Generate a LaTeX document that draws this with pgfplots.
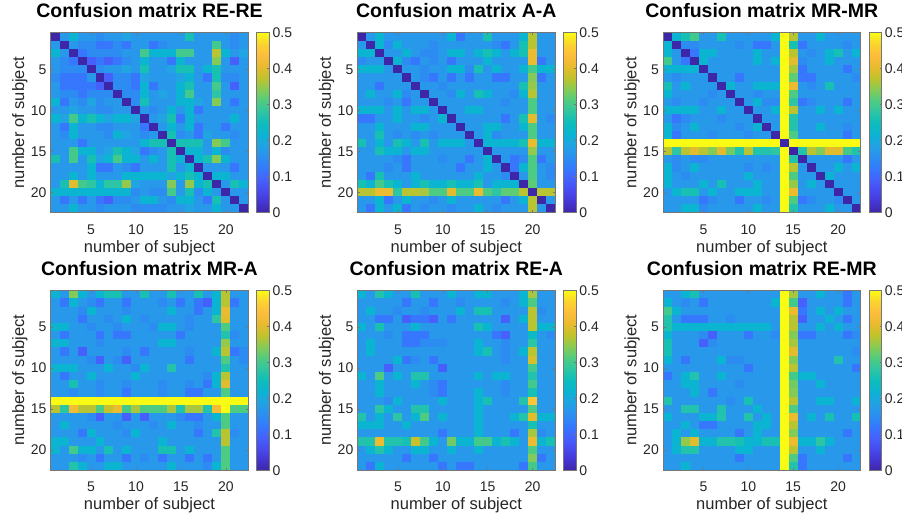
\documentclass[border=0pt]{standalone}
\usepackage{fontspec}
\setmainfont{Liberation Sans}
\usepackage{pgfplots}
\usepackage{pgfplotstable}
\pgfplotsset{compat=1.18}

\definecolor{ticktext}{RGB}{38,38,38}
\definecolor{framegray}{RGB}{118,118,118}

% MATLAB parula (R2014b), 17 samples
\pgfplotsset{colormap={parula}{
  rgb=(0.2422,0.1504,0.6603) rgb=(0.2704,0.2138,0.8346) rgb=(0.2813,0.2985,0.9397)
  rgb=(0.2710,0.3860,0.9898) rgb=(0.2006,0.4803,0.9906) rgb=(0.1716,0.5655,0.9393)
  rgb=(0.1321,0.6363,0.8932) rgb=(0.0433,0.7039,0.8242) rgb=(0.0504,0.7423,0.7359)
  rgb=(0.1853,0.7721,0.6379) rgb=(0.3176,0.7994,0.4975) rgb=(0.5329,0.7970,0.3267)
  rgb=(0.7590,0.7629,0.1717) rgb=(0.9093,0.7321,0.1815) rgb=(0.9946,0.7407,0.2394)
  rgb=(0.9835,0.8280,0.1817) rgb=(0.9769,0.9839,0.0805)}}

\pgfdeclareplotmark{cell}{\pgfpathrectangle{\pgfqpoint{-4.6pt}{-4.2pt}}{\pgfqpoint{9.2pt}{8.4pt}}\pgfusepathqfill}

% one row per subject, one column per subject
\pgfplotstableread[header=false]{
0 .17 .22 .17 .17 .15 .17 .17 .19 .17 .17 .17 .17 .17 .17 .26 .17 .17 .17 .17 .15 .17
.17 0 .17 .15 .15 .12 .12 .15 .12 .17 .17 .12 .15 .17 .17 .17 .17 .17 .30 .17 .15 .17
.22 .17 0 .12 .15 .15 .15 .15 .17 .17 .30 .22 .22 .22 .30 .30 .17 .17 .37 .22 .17 .19
.17 .15 .12 0 .09 .12 .09 .12 .15 .17 .22 .17 .17 .12 .22 .17 .17 .17 .34 .17 .09 .17
.17 .15 .15 .15 0 .15 .17 .17 .19 .17 .26 .17 .17 .19 .26 .26 .17 .22 .26 .17 .17 .17
.15 .12 .12 .12 .17 0 .09 .15 .15 .12 .19 .17 .17 .17 .19 .22 .17 .12 .26 .15 .15 .17
.17 .12 .12 .12 .12 .09 0 .15 .15 .12 .22 .12 .17 .17 .22 .26 .17 .17 .30 .17 .09 .17
.17 .15 .15 .12 .15 .15 .15 0 .15 .15 .22 .17 .19 .17 .22 .30 .17 .17 .28 .17 .17 .17
.22 .12 .17 .15 .19 .15 .17 .17 0 .15 .26 .17 .17 .17 .22 .22 .19 .17 .34 .17 .12 .17
.17 .17 .19 .17 .17 .15 .15 .17 .17 0 .17 .15 .17 .22 .17 .22 .12 .17 .17 .17 .17 .17
.22 .19 .30 .22 .26 .22 .19 .22 .22 .19 0 .17 .19 .26 .12 .22 .17 .17 .17 .17 .22 .17
.17 .12 .22 .17 .17 .15 .15 .17 .17 .17 .12 0 .17 .22 .17 .22 .12 .17 .17 .12 .17 .17
.17 .15 .22 .17 .17 .17 .15 .22 .19 .17 .15 .17 0 .26 .15 .17 .12 .19 .17 .17 .15 .17
.17 .17 .17 .12 .17 .17 .17 .17 .17 .17 .22 .26 .26 0 .26 .26 .26 .17 .34 .30 .17 .17
.17 .17 .30 .22 .22 .17 .19 .26 .22 .19 .12 .15 .17 .26 0 .22 .22 .17 .22 .15 .17 .17
.26 .17 .30 .17 .26 .19 .22 .30 .22 .22 .17 .22 .17 .26 .22 0 .22 .26 .34 .22 .17 .17
.17 .17 .17 .17 .22 .12 .12 .17 .15 .12 .17 .17 .17 .26 .17 .22 0 .17 .17 .17 .12 .17
.17 .17 .22 .17 .22 .17 .17 .17 .22 .22 .22 .22 .22 .19 .22 .26 .22 0 .22 .22 .17 .17
.17 .26 .40 .30 .28 .22 .28 .28 .35 .19 .17 .17 .17 .34 .17 .35 .22 .26 0 .17 .26 .22
.22 .22 .22 .22 .22 .22 .22 .22 .22 .15 .17 .15 .15 .30 .17 .26 .15 .22 .17 0 .17 .17
.17 .12 .17 .12 .17 .12 .09 .15 .15 .17 .22 .22 .17 .15 .22 .22 .17 .12 .26 .17 0 .17
.17 .17 .22 .17 .17 .15 .17 .17 .17 .15 .15 .15 .15 .17 .17 .19 .17 .17 .22 .17 .17 0
}\tblRERE

\pgfplotstableread[header=false]{
0 .17 .22 .17 .17 .17 .17 .17 .17 .17 .22 .12 .17 .17 .26 .17 .17 .17 .22 .37 .17 .17
.17 0 .22 .15 .22 .17 .17 .17 .15 .17 .17 .17 .17 .17 .17 .15 .12 .17 .26 .37 .17 .17
.22 .22 0 .17 .17 .22 .17 .15 .15 .17 .22 .22 .17 .22 .26 .22 .17 .22 .26 .41 .17 .17
.15 .17 .17 0 .22 .15 .12 .17 .15 .17 .12 .17 .17 .17 .22 .17 .17 .17 .17 .41 .12 .17
.22 .22 .22 .17 0 .17 .17 .15 .17 .17 .22 .22 .15 .26 .17 .22 .17 .17 .22 .30 .22 .22
.17 .17 .17 .17 .17 0 .17 .15 .12 .17 .12 .17 .12 .17 .17 .12 .12 .17 .17 .34 .12 .17
.17 .17 .12 .17 .17 .17 0 .17 .17 .15 .17 .17 .17 .17 .17 .17 .17 .17 .26 .35 .17 .17
.17 .22 .17 .17 .22 .15 .17 0 .17 .17 .15 .22 .17 .26 .22 .17 .17 .15 .22 .37 .17 .17
.17 .17 .17 .15 .17 .12 .17 .17 0 .17 .17 .17 .17 .17 .17 .17 .15 .17 .17 .31 .17 .17
.22 .22 .22 .17 .22 .17 .22 .22 .17 0 .17 .17 .22 .22 .17 .17 .17 .17 .17 .31 .17 .17
.12 .12 .17 .17 .22 .17 .17 .15 .17 .22 0 .17 .17 .17 .17 .17 .12 .17 .26 .40 .17 .15
.17 .17 .22 .17 .17 .17 .22 .22 .17 .17 .17 0 .17 .17 .22 .22 .17 .17 .22 .31 .17 .17
.17 .17 .26 .17 .15 .17 .15 .17 .15 .17 .17 .17 0 .17 .22 .15 .17 .17 .17 .31 .17 .17
.26 .17 .22 .17 .26 .22 .17 .26 .17 .22 .22 .22 .17 0 .22 .22 .22 .22 .26 .41 .22 .22
.17 .17 .26 .22 .22 .17 .22 .22 .17 .17 .17 .17 .17 .17 0 .17 .17 .17 .17 .35 .17 .17
.17 .17 .17 .17 .15 .12 .17 .17 .17 .15 .17 .17 .12 .17 .22 0 .17 .12 .15 .31 .12 .17
.17 .17 .17 .15 .17 .12 .17 .17 .17 .17 .17 .12 .17 .17 .22 .17 0 .12 .22 .31 .17 .15
.17 .12 .26 .17 .17 .17 .22 .17 .17 .17 .17 .17 .17 .22 .17 .17 .15 0 .17 .31 .17 .15
.26 .22 .30 .26 .22 .17 .22 .26 .22 .22 .26 .22 .22 .26 .17 .22 .22 .22 0 .32 .17 .17
.37 .37 .41 .41 .28 .37 .37 .36 .31 .31 .40 .31 .31 .41 .31 .28 .32 .32 .37 0 .37 .37
.17 .17 .22 .12 .17 .22 .17 .17 .15 .17 .22 .17 .17 .17 .17 .17 .12 .17 .22 .37 0 .17
.17 .12 .22 .17 .22 .12 .17 .15 .17 .17 .15 .17 .17 .22 .17 .15 .17 .17 .17 .37 .17 0
}\tblAA

\pgfplotstableread[header=false]{
0 .22 .26 .30 .17 .17 .26 .17 .17 .17 .17 .17 .22 .5 .37 .17 .17 .22 .17 .17 .17 .17
.22 0 .15 .15 .17 .17 .17 .17 .15 .17 .12 .12 .17 .5 .26 .12 .17 .17 .17 .17 .15 .17
.22 .17 0 .12 .22 .22 .17 .17 .17 .17 .22 .17 .17 .5 .37 .17 .15 .17 .22 .26 .17 .22
.30 .17 .12 0 .22 .17 .17 .17 .17 .17 .22 .17 .22 .5 .40 .15 .17 .17 .22 .17 .17 .17
.22 .22 .22 .22 0 .17 .17 .17 .17 .17 .17 .17 .17 .5 .36 .12 .17 .17 .17 .17 .12 .17
.17 .15 .17 .17 .17 0 .17 .17 .12 .17 .17 .17 .17 .5 .32 .12 .12 .17 .17 .17 .17 .15
.26 .17 .22 .17 .17 .17 0 .22 .17 .17 .22 .22 .22 .5 .41 .17 .15 .17 .26 .17 .17 .17
.22 .17 .17 .17 .17 .15 .17 0 .17 .17 .15 .17 .17 .5 .31 .17 .17 .17 .17 .17 .17 .17
.17 .15 .17 .17 .15 .17 .17 .17 0 .17 .22 .15 .15 .5 .28 .12 .15 .17 .17 .17 .12 .17
.22 .22 .22 .22 .17 .17 .22 .17 .17 0 .17 .17 .22 .5 .37 .17 .17 .22 .17 .22 .17 .17
.17 .12 .15 .17 .17 .17 .15 .17 .17 .17 0 .17 .17 .5 .27 .17 .17 .17 .17 .17 .17 .17
.22 .15 .17 .22 .17 .17 .17 .17 .15 .17 .22 0 .17 .5 .27 .17 .17 .22 .17 .17 .15 .17
.22 .12 .17 .17 .17 .15 .17 .17 .17 .15 .17 .17 0 .5 .31 .17 .17 .17 .17 .17 .12 .17
.5 .5 .5 .5 .5 .5 .5 .5 .5 .5 .5 .5 .5 0 .5 .5 .5 .5 .5 .5 .5 .5
.37 .28 .37 .40 .37 .34 .40 .33 .27 .37 .27 .27 .28 .5 0 .27 .37 .34 .40 .40 .30 .27
.17 .15 .17 .15 .15 .17 .17 .17 .17 .17 .17 .17 .17 .5 .27 0 .17 .17 .17 .17 .12 .17
.22 .15 .17 .22 .17 .17 .17 .17 .17 .15 .17 .15 .17 .5 .37 .17 0 .17 .17 .22 .17 .22
.22 .17 .15 .17 .17 .17 .17 .17 .17 .22 .17 .17 .17 .5 .31 .17 .17 0 .22 .17 .17 .17
.22 .17 .17 .17 .22 .17 .26 .17 .17 .17 .22 .17 .17 .5 .35 .17 .22 .17 0 .17 .17 .17
.17 .22 .26 .26 .17 .22 .17 .17 .22 .22 .22 .17 .17 .5 .41 .17 .17 .17 .17 0 .17 .17
.17 .17 .17 .17 .12 .15 .17 .17 .12 .17 .17 .15 .17 .5 .31 .12 .15 .17 .17 .15 0 .17
.17 .17 .22 .22 .15 .17 .17 .17 .17 .17 .22 .17 .17 .5 .27 .17 .17 .17 .22 .17 .17 0
}\tblMRMR

\pgfplotstableread[header=false]{
.22 .17 .34 .22 .17 .22 .26 .26 .17 .17 .26 .17 .17 .26 .17 .17 .26 .17 .22 .37 .17 .17
.17 .12 .22 .17 .15 .12 .17 .17 .12 .17 .17 .17 .15 .17 .12 .17 .12 .09 .22 .37 .12 .17
.17 .17 .17 .15 .22 .17 .17 .17 .15 .17 .17 .17 .17 .22 .17 .17 .12 .17 .22 .41 .17 .17
.17 .17 .17 .12 .17 .17 .15 .17 .22 .17 .15 .17 .17 .17 .17 .15 .17 .17 .28 .40 .17 .17
.22 .22 .17 .17 .15 .17 .17 .15 .17 .17 .17 .15 .22 .22 .17 .15 .17 .17 .17 .31 .17 .17
.17 .12 .17 .17 .17 .12 .17 .12 .12 .17 .17 .17 .17 .17 .12 .17 .17 .17 .17 .27 .15 .17
.22 .22 .17 .17 .17 .15 .17 .17 .17 .17 .17 .17 .22 .22 .17 .17 .17 .17 .17 .35 .17 .17
.17 .12 .17 .09 .17 .17 .17 .17 .15 .17 .12 .17 .17 .17 .17 .15 .17 .17 .22 .37 .12 .15
.17 .17 .17 .17 .15 .09 .17 .15 .09 .17 .17 .17 .17 .17 .17 .12 .17 .17 .17 .31 .17 .15
.22 .22 .22 .17 .17 .17 .22 .17 .17 .15 .22 .17 .17 .27 .17 .17 .17 .17 .17 .27 .17 .17
.17 .12 .17 .17 .22 .17 .17 .17 .17 .22 .17 .17 .17 .17 .17 .17 .17 .15 .22 .37 .17 .17
.17 .17 .26 .17 .17 .15 .17 .17 .15 .17 .17 .17 .15 .17 .17 .15 .17 .12 .22 .40 .17 .17
.17 .17 .15 .17 .17 .15 .17 .17 .12 .17 .17 .17 .15 .17 .17 .12 .12 .17 .17 .31 .17 .17
.5 .5 .5 .5 .5 .5 .5 .5 .5 .5 .5 .5 .5 .5 .5 .5 .5 .5 .5 .5 .5 .5
.37 .28 .42 .37 .37 .31 .38 .41 .30 .36 .31 .31 .31 .36 .27 .36 .36 .27 .42 .5 .31 .31
.17 .17 .17 .17 .15 .09 .17 .17 .09 .17 .09 .17 .17 .17 .15 .12 .12 .17 .22 .31 .17 .17
.17 .22 .17 .17 .17 .17 .17 .15 .17 .17 .17 .15 .17 .22 .17 .17 .15 .17 .17 .31 .17 .17
.17 .17 .17 .12 .22 .17 .17 .17 .15 .22 .17 .17 .17 .17 .17 .17 .12 .17 .27 .37 .15 .17
.22 .22 .17 .17 .17 .22 .17 .17 .17 .17 .17 .17 .22 .17 .17 .17 .17 .17 .17 .37 .17 .17
.22 .17 .30 .22 .22 .17 .26 .17 .22 .17 .17 .17 .26 .26 .17 .22 .17 .17 .17 .31 .17 .17
.17 .17 .17 .15 .17 .12 .17 .17 .12 .17 .15 .17 .12 .17 .17 .12 .17 .12 .17 .31 .17 .17
.17 .17 .27 .22 .17 .17 .22 .22 .17 .17 .17 .17 .17 .22 .17 .17 .17 .15 .22 .31 .17 .17
}\tblMRA

\pgfplotstableread[header=false]{
.22 .17 .27 .22 .17 .17 .26 .17 .17 .17 .22 .17 .17 .22 .22 .17 .17 .17 .22 .36 .17 .17
.17 .17 .17 .17 .17 .12 .17 .17 .12 .17 .17 .15 .17 .17 .17 .17 .15 .17 .22 .31 .17 .17
.17 .22 .17 .17 .15 .17 .17 .15 .17 .17 .17 .22 .17 .26 .26 .17 .17 .17 .17 .37 .15 .17
.17 .17 .12 .12 .17 .09 .12 .12 .09 .17 .12 .17 .17 .17 .17 .17 .09 .17 .22 .37 .17 .17
.22 .17 .26 .17 .17 .17 .22 .17 .17 .17 .17 .17 .17 .26 .22 .17 .17 .17 .17 .37 .22 .22
.17 .17 .17 .15 .17 .12 .12 .12 .17 .17 .17 .17 .17 .17 .17 .12 .09 .17 .17 .24 .17 .15
.17 .22 .17 .17 .17 .12 .12 .15 .15 .15 .17 .17 .17 .22 .17 .17 .15 .17 .17 .28 .17 .17
.17 .22 .17 .17 .17 .17 .17 .17 .17 .17 .17 .17 .17 .22 .26 .17 .15 .17 .22 .37 .17 .17
.17 .17 .17 .17 .22 .12 .15 .17 .12 .17 .17 .17 .17 .17 .17 .17 .15 .17 .17 .39 .17 .17
.17 .17 .17 .09 .17 .17 .17 .17 .17 .09 .17 .17 .17 .17 .17 .17 .17 .17 .17 .30 .17 .17
.22 .17 .31 .17 .22 .17 .27 .27 .17 .17 .17 .17 .17 .22 .17 .22 .22 .17 .17 .27 .17 .17
.17 .17 .22 .17 .17 .17 .22 .17 .15 .12 .17 .17 .17 .17 .17 .17 .15 .17 .17 .30 .17 .17
.17 .17 .22 .17 .17 .17 .17 .17 .15 .12 .17 .17 .17 .22 .17 .17 .15 .17 .17 .26 .17 .17
.17 .17 .17 .15 .22 .17 .17 .17 .17 .22 .17 .17 .17 .22 .26 .17 .17 .17 .27 .45 .17 .17
.17 .17 .28 .22 .17 .17 .27 .27 .17 .17 .17 .17 .17 .22 .17 .17 .17 .17 .17 .31 .17 .17
.27 .17 .22 .17 .28 .17 .22 .31 .17 .22 .17 .17 .17 .22 .17 .17 .17 .22 .27 .40 .22 .22
.22 .22 .22 .17 .17 .22 .17 .17 .17 .17 .17 .17 .17 .22 .17 .17 .17 .17 .17 .26 .17 .17
.17 .17 .17 .17 .17 .17 .17 .17 .17 .12 .17 .17 .17 .22 .17 .17 .17 .12 .17 .36 .15 .17
.27 .27 .41 .27 .27 .26 .38 .30 .22 .17 .33 .22 .22 .30 .30 .22 .26 .22 .17 .41 .22 .26
.17 .22 .27 .22 .17 .17 .22 .22 .17 .17 .22 .17 .17 .22 .17 .17 .17 .17 .17 .31 .17 .17
.17 .17 .17 .17 .17 .12 .17 .17 .12 .17 .17 .17 .17 .17 .17 .17 .17 .17 .17 .34 .12 .17
.17 .12 .22 .17 .17 .17 .17 .17 .17 .12 .17 .12 .12 .17 .17 .17 .17 .17 .12 .30 .17 .17
}\tblREA

\pgfplotstableread[header=false]{
.17 .17 .22 .26 .17 .17 .17 .17 .17 .17 .17 .17 .17 .5 .36 .17 .17 .22 .17 .17 .12 .17
.22 .17 .15 .17 .12 .17 .17 .17 .17 .17 .17 .17 .22 .5 .30 .09 .17 .17 .17 .17 .12 .17
.30 .22 .17 .17 .17 .17 .17 .17 .17 .17 .17 .17 .17 .5 .41 .12 .17 .22 .17 .22 .17 .17
.27 .17 .12 .12 .12 .17 .17 .15 .17 .17 .17 .17 .17 .5 .37 .09 .17 .17 .22 .17 .12 .17
.27 .22 .22 .22 .22 .22 .22 .22 .22 .22 .22 .22 .17 .5 .37 .17 .17 .22 .17 .22 .17 .17
.22 .17 .17 .17 .15 .09 .17 .17 .17 .12 .17 .17 .15 .5 .34 .12 .12 .17 .17 .17 .12 .15
.26 .17 .17 .17 .09 .15 .17 .17 .17 .17 .17 .17 .17 .5 .36 .17 .17 .17 .17 .17 .17 .17
.26 .17 .17 .17 .17 .17 .17 .17 .17 .17 .17 .17 .17 .5 .40 .17 .17 .17 .17 .17 .17 .15
.22 .17 .12 .17 .17 .17 .22 .15 .15 .17 .17 .17 .17 .5 .34 .17 .17 .17 .17 .27 .17 .17
.17 .17 .17 .17 .17 .17 .17 .17 .17 .12 .17 .17 .17 .5 .37 .17 .17 .17 .17 .17 .17 .12
.12 .17 .22 .27 .17 .17 .22 .17 .17 .17 .17 .17 .17 .5 .30 .22 .22 .17 .17 .17 .17 .17
.17 .17 .22 .22 .17 .17 .17 .17 .15 .17 .17 .17 .17 .5 .33 .17 .17 .22 .17 .17 .17 .17
.17 .17 .17 .22 .17 .12 .17 .17 .17 .17 .17 .17 .17 .5 .34 .17 .17 .17 .17 .17 .17 .17
.27 .17 .17 .17 .17 .17 .17 .15 .17 .26 .17 .17 .17 .5 .37 .17 .17 .22 .22 .17 .17 .22
.17 .17 .27 .27 .17 .17 .27 .17 .17 .17 .22 .17 .17 .5 .31 .17 .17 .17 .17 .17 .17 .17
.22 .17 .17 .17 .22 .22 .27 .17 .17 .27 .17 .22 .17 .5 .41 .17 .22 .17 .26 .17 .17 .26
.17 .17 .22 .17 .12 .12 .17 .17 .17 .17 .22 .22 .17 .5 .37 .17 .17 .17 .17 .17 .17 .17
.17 .22 .17 .22 .17 .17 .17 .17 .12 .17 .22 .17 .17 .5 .34 .17 .17 .17 .17 .17 .12 .17
.17 .22 .35 .40 .22 .22 .27 .27 .26 .22 .22 .26 .26 .5 .41 .22 .22 .28 .22 .17 .17 .17
.17 .22 .27 .27 .17 .17 .17 .17 .22 .22 .17 .17 .17 .5 .37 .17 .17 .22 .17 .17 .17 .17
.17 .17 .17 .17 .17 .17 .17 .17 .12 .17 .17 .17 .17 .5 .31 .12 .17 .17 .17 .17 .12 .17
.17 .17 .22 .17 .17 .17 .17 .17 .17 .17 .17 .17 .17 .5 .27 .12 .17 .17 .17 .17 .17 .17
}\tblREMR

\pgfplotsset{
  cm/.style={
    width=197.6pt, height=180pt, scale only axis, anchor=south west,
    xmin=0.5, xmax=22.5, ymin=0.5, ymax=22.5,
    xtick={5,10,15,20},
    ytick={3,8,13,18}, yticklabels={20,15,10,5},
    tick pos=both, tick align=inside, major tick length=2.5pt,
    axis line style={framegray, line width=0.7pt},
    every tick/.style={framegray, line width=0.6pt},
    axis on top, clip marker paths=true,
    /pgf/number format/assume math mode=true,
    tick label style={font=\fontsize{14}{16}\selectfont, text=ticktext},
    xticklabel style={anchor=base, inner sep=0pt, yshift=-21.6pt},
    yticklabel style={anchor=east, inner sep=0pt, xshift=-4pt},
    title style={font=\bfseries\fontsize{19.5}{22}\selectfont, at={(axis description cs:0.5,1)}, anchor=base, yshift=8.7pt},
    xlabel={number of subject}, ylabel={number of subject},
    label style={font=\fontsize{16.5}{18}\selectfont, text=ticktext},
    xlabel style={at={(axis description cs:0.5,-0.22)}, anchor=base},
    ylabel style={at={(axis description cs:-0.1351,0.5)}, anchor=base},
    colormap name=parula, point meta min=0, point meta max=0.5,
    colorbar,
    colorbar style={
      at={(parent axis.north east)}, anchor=north west, xshift=0pt,
      width=12.6pt, height=180pt, scale only axis,
      ytick={0,0.1,0.2,0.3,0.4,0.5}, yticklabels={0,0.1,0.2,0.3,0.4,0.5},
      ytick pos=right, yticklabel pos=right, tick align=inside, major tick length=2pt,
      axis line style={framegray, line width=0.7pt},
      every tick/.style={framegray, line width=0.6pt},
      yticklabel style={anchor=west, inner sep=0pt, xshift=3pt,
        font=\fontsize{14}{16}\selectfont, text=ticktext},
    },
  },
  cellplot/.style={scatter, only marks, mark=cell, point meta=explicit,
    scatter/use mapped color={draw=mapped color, fill=mapped color}},
}

\newcommand{\cmpanel}[4]{%
  \begin{axis}[cm, at={(#1pt,#2pt)}, title={#3}]
    \pgfplotsinvokeforeach{0,...,21}{%
      \addplot[cellplot] table[x expr=##1+1, y expr=22-\coordindex, meta index=##1] {#4};}
  \end{axis}}

\begin{document}
\begin{tikzpicture}
\path[use as bounding box] (0pt,0pt) rectangle (902pt,518pt);
\cmpanel{50.7}{305.3}{Confusion matrix RE-RE}{\tblRERE}
\cmpanel{357.5}{305.3}{Confusion matrix A-A}{\tblAA}
\cmpanel{663}{305.3}{Confusion matrix MR-MR}{\tblMRMR}
\cmpanel{50.7}{47.7}{Confusion matrix MR-A}{\tblMRA}
\cmpanel{357.5}{47.7}{Confusion matrix RE-A}{\tblREA}
\cmpanel{663}{47.7}{Confusion matrix RE-MR}{\tblREMR}
\end{tikzpicture}
\end{document}
